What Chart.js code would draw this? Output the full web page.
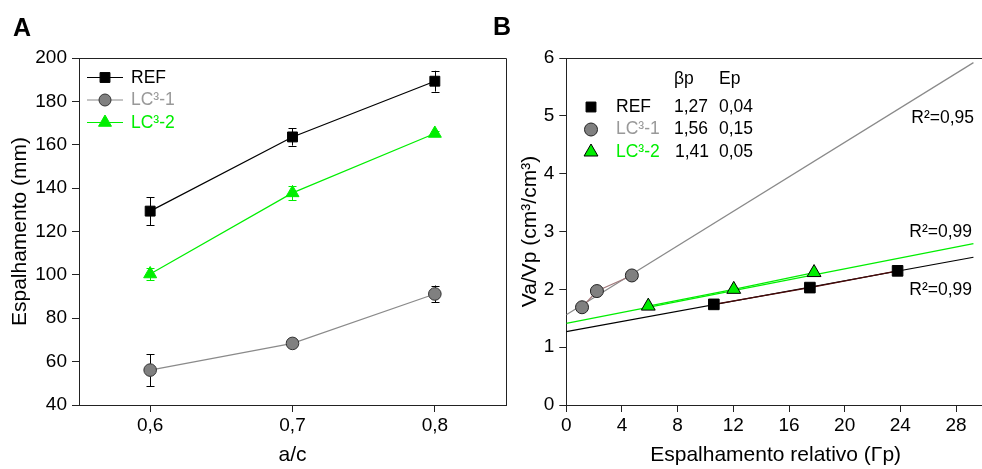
<!DOCTYPE html>
<html>
<head>
<meta charset="utf-8">
<script src="https://cdn.jsdelivr.net/npm/chart.js@4.4.1/dist/chart.umd.min.js"></script>
<style>
  html, body { margin: 0; padding: 0; background: #fff; overflow: hidden; width: 982px; height: 469px; }
  .caixa { position: absolute; top: 0; height: 469px; overflow: hidden; }
  #caixaA { left: 0; width: 520px; }
  #caixaB { left: 491px; width: 491px; }
</style>
</head>
<body>
<div class="caixa" id="caixaA"><canvas id="chartA" width="520" height="469"></canvas></div>
<div class="caixa" id="caixaB"><canvas id="chartB" width="503" height="469"></canvas></div>
<script>
const FONTE = "'Liberation Sans', Arial, sans-serif";
const VERDE = "#00ee00";
const CINZA = "#8a8a8a";
const EIXO = "#222";

// painel A - espalhamento x a/c
const acX = [0.6, 0.7, 0.8];
const acLabels = ["0,6", "0,7", "0,8"];
const refA = [129.4, 163.6, 189.3];
const refAerr = [6.4, 4.0, 4.8];
const lc1A = [56.1, 68.4, 91.2];
const lc1Aerr = [7.4, 1.0, 3.9];
const lc2A = [100.4, 137.8, 165.2];
const lc2Aerr = [2.8, 3.4, 1.0];
const yTicksA = [40, 60, 80, 100, 120, 140, 160, 180, 200];
const nomes = ["REF", "LC³-1", "LC³-2"];

// painel B - Va/Vp x espalhamento relativo
const refBx = [10.6, 17.5, 23.8];
const refBy = [1.74, 2.03, 2.32];
const lc1Bx = [1.13, 2.2, 4.71];
const lc1By = [1.69, 1.97, 2.24];
const lc2Bx = [5.89, 12.03, 17.8];
const lc2By = [1.71, 2.0, 2.29];
const ajusteX = [0, 29.25];
const ajusteRef = [1.27, 2.555];
const ajusteLc1 = [1.56, 5.92];
const ajusteLc2 = [1.41, 2.79];
const betaP = ["1,27", "1,56", "1,41"];
const ep = ["0,04", "0,15", "0,05"];
const r2 = ["R²=0,95", "R²=0,99", "R²=0,99"];
const xTicksB = [0, 4, 8, 12, 16, 20, 24, 28];
const yTicksB = [0, 1, 2, 3, 4, 5, 6];

const pontos = (xs, ys) => xs.map((x, i) => ({ x: x, y: ys[i] }));

// desenha marcador (legendas)
function marca(ctx, estilo, x, y, r, fundo, borda) {
  ctx.save();
  ctx.fillStyle = fundo;
  ctx.strokeStyle = borda;
  ctx.lineWidth = 1;
  ctx.beginPath();
  if (estilo === "rect") {
    const s = r * Math.SQRT1_2;
    ctx.rect(x - s, y - s, 2 * s, 2 * s);
  } else if (estilo === "circle") {
    ctx.arc(x, y, r, 0, Math.PI * 2);
  } else {
    ctx.moveTo(x, y - r);
    ctx.lineTo(x + r * 0.866, y + r / 2);
    ctx.lineTo(x - r * 0.866, y + r / 2);
    ctx.closePath();
  }
  ctx.fill();
  ctx.stroke();
  ctx.restore();
}

const barrasErro = {
  id: "barrasErro",
  beforeDatasetsDraw(chart) {
    const ctx = chart.ctx;
    const ys = chart.scales.y;
    chart.data.datasets.forEach((ds, i) => {
      if (!ds.erros) return;
      const meta = chart.getDatasetMeta(i);
      ctx.save();
      ctx.strokeStyle = ds.corErro;
      ctx.lineWidth = 1;
      meta.data.forEach((p, j) => {
        const v = ds.data[j].y, e = ds.erros[j];
        const y1 = ys.getPixelForValue(v + e), y2 = ys.getPixelForValue(v - e);
        const x = Math.round(p.x) + 0.5;
        ctx.beginPath();
        ctx.moveTo(x, y1); ctx.lineTo(x, y2);
        ctx.moveTo(x - 4, Math.round(y1) + 0.5); ctx.lineTo(x + 4, Math.round(y1) + 0.5);
        ctx.moveTo(x - 4, Math.round(y2) + 0.5); ctx.lineTo(x + 4, Math.round(y2) + 0.5);
        ctx.stroke();
      });
      ctx.restore();
    });
  }
};

const moldura = {
  id: "moldura",
  afterDraw(chart, args, opts) {
    const { ctx, chartArea: a } = chart;
    ctx.save();
    ctx.strokeStyle = EIXO;
    ctx.lineWidth = 1;
    ctx.beginPath();
    ctx.moveTo(a.left, Math.round(a.top) + 0.5);
    ctx.lineTo(a.right + 0.5, Math.round(a.top) + 0.5);
    if (opts.direita) ctx.lineTo(Math.round(a.right) + 0.5, a.bottom);
    ctx.stroke();
    ctx.restore();
  }
};

const textosA = {
  id: "textosA",
  afterDraw(chart) {
    const ctx = chart.ctx;
    ctx.save();
    ctx.fillStyle = "#000";
    ctx.font = "bold 25px " + FONTE;
    ctx.textBaseline = "alphabetic";
    ctx.fillText("A", 13, 36);
    const linhas = ["#000", CINZA, VERDE];
    const textos = ["#000", "#999", VERDE];
    const estilos = [["rect", 7, "#000", "#000"], ["circle", 6, "#808080", "#333"], ["triangle", 7.5, VERDE, VERDE]];
    const yy = [77, 99.5, 122];
    ctx.font = "17.5px " + FONTE;
    ctx.textBaseline = "middle";
    nomes.forEach((n, i) => {
      ctx.strokeStyle = linhas[i];
      ctx.lineWidth = 1;
      ctx.beginPath();
      ctx.moveTo(87, yy[i] + 0.5);
      ctx.lineTo(123, yy[i] + 0.5);
      ctx.stroke();
      const e = estilos[i];
      marca(ctx, e[0], 105, yy[i] + 0.5, e[1], e[2], e[3]);
      ctx.fillStyle = textos[i];
      ctx.fillText(n, 131, yy[i] + 1);
    });
    ctx.restore();
  }
};

const textosB = {
  id: "textosB",
  afterDraw(chart) {
    const ctx = chart.ctx;
    ctx.save();
    ctx.fillStyle = "#000";
    ctx.font = "bold 25px " + FONTE;
    ctx.textBaseline = "alphabetic";
    ctx.fillText("B", 2, 35);
    ctx.font = "17.5px " + FONTE;
    ctx.textBaseline = "middle";
    ctx.fillText("βp", 183, 79);
    ctx.fillText("Ep", 228, 79);
    const textos = ["#000", "#999", VERDE];
    const estilos = [["rect", 7, "#000", "#000"], ["circle", 6.5, "#808080", "#222"], ["triangle", 8, VERDE, "#000"]];
    const yy = [107, 129.5, 152];
    nomes.forEach((n, i) => {
      const e = estilos[i];
      marca(ctx, e[0], 100, yy[i], e[1], e[2], e[3]);
      ctx.fillStyle = textos[i];
      ctx.fillText(n, 125, yy[i]);
      ctx.fillStyle = "#000";
      ctx.fillText(betaP[i], i === 2 ? 184 : 183, yy[i]);
      ctx.fillText(ep[i], 228, yy[i]);
    });
    ctx.textAlign = "right";
    ctx.fillText(r2[0], 483, 118);
    ctx.fillText(r2[1], 481, 232);
    ctx.fillText(r2[2], 481, 290);
    ctx.restore();
  }
};

function eixo(pos, min, max, marcas, rotulos, titulo, tamanho, padTitulo) {
  return {
    type: "linear",
    position: pos,
    min: min,
    max: max,
    afterBuildTicks: (s) => { s.ticks = marcas.map((v) => ({ value: v })); },
    afterFit: (s) => {
      if (pos === "left") {
        s.width = tamanho;
        s.paddingTop = 0; s.paddingBottom = 0;
      } else {
        s.height = tamanho;
        s.paddingLeft = 0; s.paddingRight = 0;
      }
    },
    ticks: {
      autoSkip: false,
      maxRotation: 0,
      padding: pos === "left" ? 5 : 2,
      color: "#000",
      font: { family: FONTE, size: 19 },
      callback: (v, i) => rotulos[i]
    },
    grid: { drawOnChartArea: false, drawTicks: true, tickLength: 7, color: EIXO, lineWidth: 1 },
    border: { color: EIXO, width: 1 },
    title: {
      display: true,
      text: titulo,
      color: "#000",
      font: { family: FONTE, size: 21 },
      padding: padTitulo
    }
  };
}

const comum = {
  responsive: false,
  animation: false,
  plugins: { legend: { display: false }, tooltip: { enabled: false } }
};

new Chart(document.getElementById("chartA"), {
  type: "line",
  data: {
    datasets: [
      {
        data: pontos(acX, refA), erros: refAerr, corErro: "#000",
        borderColor: "#000", borderWidth: 1.2,
        pointStyle: "rect", pointRadius: 7, pointBackgroundColor: "#000", pointBorderColor: "#000", pointBorderWidth: 1
      },
      {
        data: pontos(acX, lc2A), erros: lc2Aerr, corErro: VERDE,
        borderColor: VERDE, borderWidth: 1.2,
        pointStyle: "triangle", pointRadius: 7.5, pointBackgroundColor: VERDE, pointBorderColor: VERDE, pointBorderWidth: 1
      },
      {
        data: pontos(acX, lc1A), erros: lc1Aerr, corErro: "#000",
        borderColor: CINZA, borderWidth: 1.2,
        pointStyle: "circle", pointRadius: 6.3, pointBackgroundColor: "#808080", pointBorderColor: "#333", pointBorderWidth: 1
      }
    ]
  },
  options: Object.assign({}, comum, {
    layout: { padding: { top: 58, right: 14, bottom: 0, left: 0 } },
    scales: {
      x: eixo("bottom", 0.55, 0.85, acX, acLabels, "a/c", 64, { top: 0, bottom: 1 }),
      y: eixo("left", 40, 200, yTicksA, yTicksA.map(String), "Espalhamento (mm)", 79, { top: 8, bottom: 0 })
    },
    plugins: Object.assign({}, comum.plugins, { moldura: { direita: true } })
  }),
  plugins: [barrasErro, moldura, textosA]
});

new Chart(document.getElementById("chartB"), {
  type: "line",
  data: {
    datasets: [
      {
        data: pontos(refBx, refBy), order: 1,
        borderColor: "#4a0a0a", borderWidth: 1.2,
        pointStyle: "rect", pointRadius: 7.5, pointBackgroundColor: "#000", pointBorderColor: "#000", pointBorderWidth: 1
      },
      {
        data: pontos(lc1Bx, lc1By), order: 1,
        borderColor: "#a0787a", borderWidth: 1.2,
        pointStyle: "circle", pointRadius: 6.5, pointBackgroundColor: "#808080", pointBorderColor: "#222", pointBorderWidth: 1
      },
      {
        data: pontos(lc2Bx, lc2By), order: 1,
        borderColor: VERDE, borderWidth: 1.2,
        pointStyle: "triangle", pointRadius: 8, pointBackgroundColor: VERDE, pointBorderColor: "#000", pointBorderWidth: 1
      },
      { data: pontos(ajusteX, ajusteLc1), order: 2, borderColor: CINZA, borderWidth: 1.2, pointRadius: 0 },
      { data: pontos(ajusteX, ajusteRef), order: 2, borderColor: "#000", borderWidth: 1.2, pointRadius: 0 },
      { data: pontos(ajusteX, ajusteLc2), order: 2, borderColor: VERDE, borderWidth: 1.2, pointRadius: 0 }
    ]
  },
  options: Object.assign({}, comum, {
    layout: { padding: { top: 58, right: 0, bottom: 0, left: 0 } },
    scales: {
      x: eixo("bottom", 0, 30.08, xTicksB, xTicksB.map(String), "Espalhamento relativo (Γp)", 64, { top: 0, bottom: 1 }),
      y: eixo("left", 0, 6, yTicksB, yTicksB.map(String), "Va/Vp (cm³/cm³)", 75.3, { top: 27, bottom: 0 })
    },
    plugins: Object.assign({}, comum.plugins, { moldura: { direita: false } })
  }),
  plugins: [barrasErro, moldura, textosB]
});
</script>
</body>
</html>
